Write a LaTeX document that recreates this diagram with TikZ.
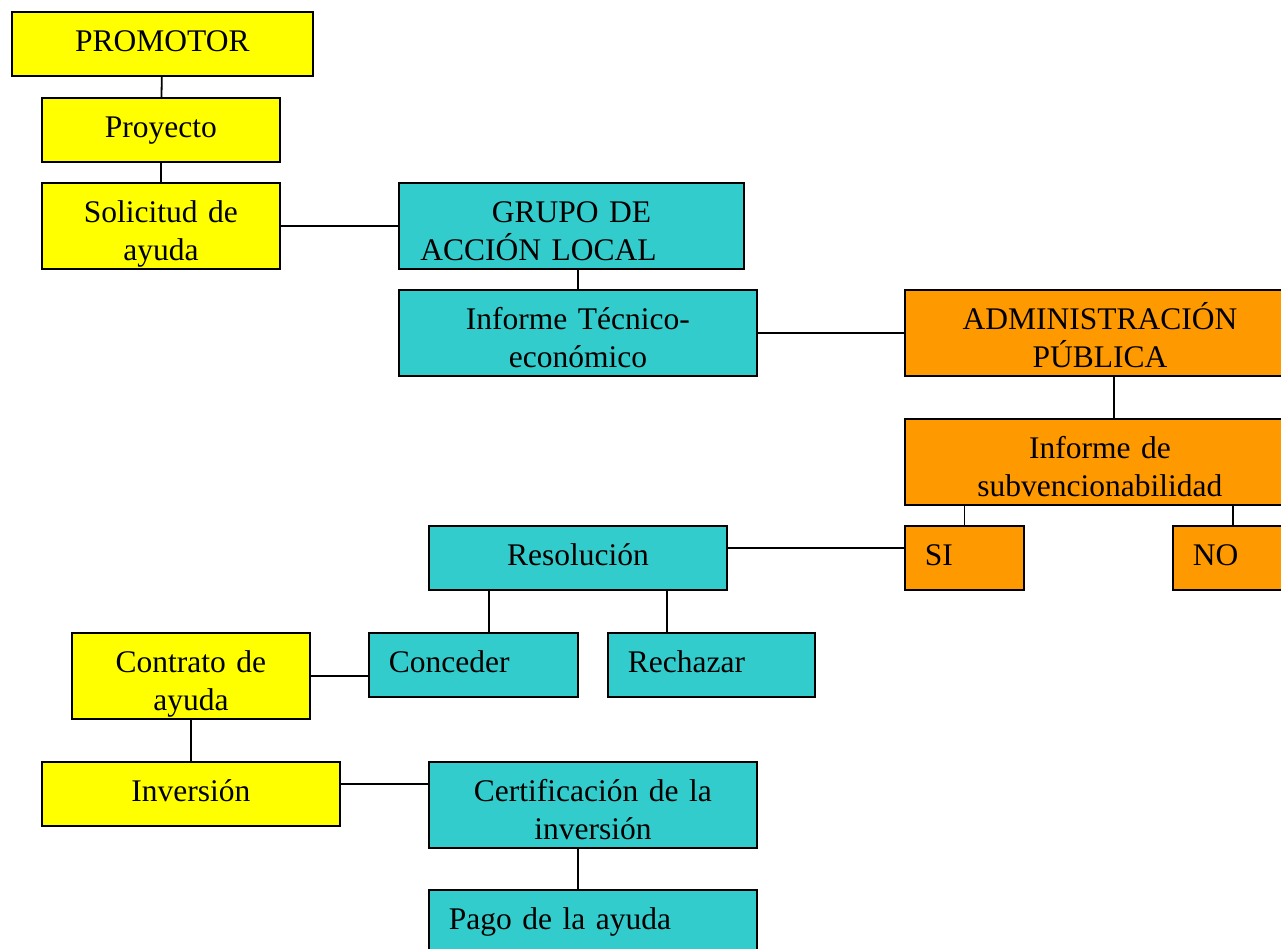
\documentclass[tikz,border=0pt]{standalone}
\usepackage{fontspec}
\setmainfont{Liberation Serif}
\definecolor{amarillo}{HTML}{FFFF00}
\definecolor{turquesa}{HTML}{33CCCC}
\definecolor{naranja}{HTML}{FF9900}

\begin{document}
\begin{tikzpicture}
  [x=1pt,y=-1pt,
   caja/.style={draw,line width=1.8pt,inner sep=0pt,anchor=north west,
     text height=40pt,text depth=24pt,align=center,
     font=\fontsize{31.5}{38}\selectfont},
   doble/.style={text depth=46pt},
   izq/.style={align=left,inner xsep=20pt},
   linea/.style={line width=1.8pt}]
  \clip (0,0) rectangle (1281,948);

  % promotor
  \node[caja,fill=amarillo,text width=301pt] (promotor) at (11,11) {PROMOTOR};
  \node[caja,fill=amarillo,text width=238pt] (proyecto) at (41,97) {Proyecto};
  \node[caja,doble,fill=amarillo,text width=238pt] (solicitud) at (41,182) {Solicitud de\\ayuda};

  % grupo de accion local
  \node[caja,doble,fill=turquesa,text width=345pt] (grupo) at (398,182) {GRUPO DE\\\makebox[302pt][l]{ACCIÓN LOCAL}};
  \node[caja,doble,fill=turquesa,text width=358pt] (inftec) at (398,289) {Informe Técnico-\\económico};

  % administracion
  \node[caja,doble,fill=naranja,text width=390pt] (admin) at (904,289) {ADMINISTRACIÓN\\PÚBLICA};
  \node[caja,doble,fill=naranja,text width=390pt] (subv) at (904,418) {Informe de\\subvencionabilidad};
  \node[caja,izq,fill=naranja,text width=79pt] (si) at (904,525) {SI};
  \node[caja,izq,fill=naranja,text width=80pt] (no) at (1172,525) {NO};

  % resolucion
  \node[caja,fill=turquesa,text width=298pt] (resol) at (428,525) {Resolución};
  \node[caja,izq,fill=turquesa,text width=169pt] (conceder) at (368,632) {Conceder};
  \node[caja,izq,fill=turquesa,text width=167pt] (rechazar) at (607,632) {Rechazar};

  % pago
  \node[caja,doble,fill=amarillo,text width=238pt] (contrato) at (71,632) {Contrato de\\ayuda};
  \node[caja,fill=amarillo,text width=298pt] (inversion) at (41,761) {Inversión};
  \node[caja,doble,fill=turquesa,text width=328pt] (certif) at (428,761) {Certificación de la\\inversión};
  \node[caja,izq,fill=turquesa,text width=288pt] (pago) at (428,889) {Pago de la ayuda};

  \draw[linea] (promotor) -- (proyecto);
  \draw[linea] (proyecto) -- (solicitud);
  \draw[linea] (solicitud) -- (grupo);
  \draw[linea] (grupo.south -| inftec.north) -- (inftec.north);
  \draw[linea] (inftec) -- (admin);
  \draw[linea] ([xshift=14pt]admin.south) -- ([xshift=14pt]subv.north);
  \draw[linea] (si.north) -- (si.north |- subv.south);
  \draw[linea] (no.north) -- (no.north |- subv.south);
  \draw[linea] ([yshift=10pt]resol.east) -- ([yshift=10pt]resol.east -| si.west);
  \draw[linea] ([xshift=-89pt]resol.south) -- ([xshift=-89pt]resol.south |- conceder.north);
  \draw[linea] ([xshift=89pt]resol.south) -- ([xshift=89pt]resol.south |- rechazar.north);
  \draw[linea] (contrato.east) -- (contrato.east -| conceder.west);
  \draw[linea] (contrato) -- (inversion);
  \draw[linea] ([yshift=10pt]inversion.east) -- ([yshift=10pt]inversion.east -| certif.west);
  \draw[linea] ([xshift=-15pt]certif.south) -- ([xshift=-15pt]certif.south |- pago.north);
\end{tikzpicture}
\end{document}
